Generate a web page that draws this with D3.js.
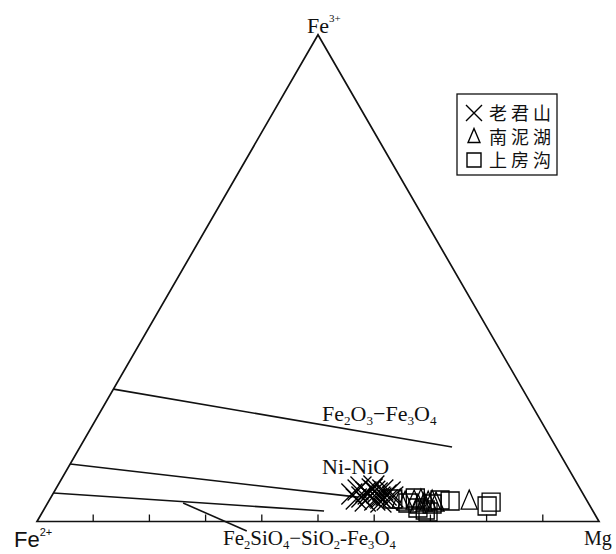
<!DOCTYPE html>
<html><head><meta charset="utf-8">
<script src="https://cdn.jsdelivr.net/npm/d3@7"></script>
<style>body{margin:0;background:#fff}svg{display:block}</style>
</head><body>
<script>
// ---- data (percent: Mg, Fe3+; Fe2+ = 100 - Mg - Fe3+) ----
const vertices = ["Fe2+", "Mg", "Fe3+"];
const legendNames = ["老君山", "南泥湖", "上房沟"];
const baseTicks = [10, 20, 30, 40, 50, 60, 70, 80, 90];
// 老君山 (crosses)
const laojunshanMg  = [53.2, 53.9, 55.3, 55.5, 56.6, 56.3, 57.9, 57.6, 58.5, 58.3, 59.4, 59.8, 60.8, 56.3, 54.5, 56.3, 59.2, 56.1, 60.1, 54.1, 57.0, 58.8];
const laojunshanFe3 = [5.65, 6.47, 5.03, 6.06, 5.24, 6.68, 4.42, 5.86, 5.03, 6.47, 5.44, 6.06, 5.03, 4.21, 4.62, 7.29, 4.0, 5.65, 4.42, 7.09, 6.2, 4.8];
// 南泥湖 (triangles)
const nannihuMg  = [62.4, 63.5, 65.0, 66.1, 67.0, 67.6, 68.2, 69.1, 74.8, 66.1];
const nannihuFe3 = [4.42, 4.0, 4.21, 4.42, 3.8, 4.0, 4.21, 3.8, 4.21, 3.39];
// 上房沟 (squares)
const shangfanggouMg  = [61.0, 64.1, 66.4, 67.9, 68.5, 69.5, 71.4, 78.5, 78.8, 64.9, 68.6];
const shangfanggouFe3 = [4.62, 3.8, 2.77, 2.36, 3.6, 4.42, 4.21, 3.18, 4.0, 4.83, 1.95];
// buffer lines [Mg, Fe3+] endpoints
const lineFe2O3Fe3O4 = [[0, 27.2], [66.2, 15.3]];
const lineNiNiO      = [[0, 11.8], [54.6, 5.0]];
const lineFQM        = [[0, 5.86], [50.0, 2.16]];
const leaderFQM      = [[24.1, 3.8], [38.3, -1.95]];

// ---- geometry ----
const W = 616, H = 554;
const x0 = 37, x1 = 599, yBase = 521.5;
const side = x1 - x0;
const triH = side * Math.sqrt(3) / 2;
const sx = d3.scaleLinear().domain([0, 100]).range([x0, x1]);
const sy = d3.scaleLinear().domain([0, 100]).range([yBase, yBase - triH]);
const px = (mg, fe3) => sx(mg + fe3 / 2);
const py = (mg, fe3) => sy(fe3);

const svg = d3.select("body").append("svg").attr("width", W).attr("height", H);
const serif = "'Liberation Serif','Times New Roman',serif";

// triangle
const tri = [[0, 0], [100, 0], [0, 100]];
svg.append("path")
  .attr("d", d3.line()(tri.map(d => [px(d[0], d[1]), py(d[0], d[1])])) + "Z")
  .attr("fill", "none").attr("stroke", "#111").attr("stroke-width", 1.7).attr("stroke-linejoin", "miter");

// base ticks
svg.selectAll("line.tick").data(baseTicks).join("line")
  .attr("x1", d => px(d, 0)).attr("x2", d => px(d, 0))
  .attr("y1", py(0, 0)).attr("y2", py(0, 0) - 7)
  .attr("stroke", "#111").attr("stroke-width", 1.3);

// buffer lines
[lineFe2O3Fe3O4, lineNiNiO, lineFQM, leaderFQM].forEach(l => {
  svg.append("line")
    .attr("x1", px(l[0][0], l[0][1])).attr("y1", py(l[0][0], l[0][1]))
    .attr("x2", px(l[1][0], l[1][1])).attr("y2", py(l[1][0], l[1][1]))
    .attr("stroke", "#111").attr("stroke-width", 1.6);
});

// chemistry text helper
function chem(x, y, parts, size) {
  const t = svg.append("text").attr("x", x).attr("y", y)
    .attr("font-family", serif).attr("font-size", size).attr("fill", "#111");
  const d = size * 0.2;
  parts.forEach(p => {
    if (p[1] === 1) t.append("tspan").text(p[0]).attr("font-size", size * 0.6).attr("dy", d);
    else t.append("tspan").text(p[0]).attr("dy", p[1] === 2 ? -d : 0);
  });
  return t;
}
chem(322, 421, [["Fe"], ["2", 1], ["O", 2], ["3", 1], ["−", 2], ["Fe"], ["3", 1], ["O", 2], ["4", 1]], 22);
chem(322, 474, [["Ni-NiO"]], 22);
chem(223, 545, [["Fe"], ["2", 1], ["SiO", 2], ["4", 1], ["−SiO", 2], ["2", 1], ["-Fe", 2], ["3", 1], ["O", 2], ["4", 1]], 21);

// vertex labels
const topLabel = svg.append("text").attr("x", 307).attr("y", 33).attr("font-family", serif).attr("font-size", 22).attr("fill", "#111");
topLabel.append("tspan").text("Fe");
topLabel.append("tspan").text("3+").attr("font-size", 11).attr("dy", -11);
svg.append("text").attr("x", 584).attr("y", 545).attr("font-family", serif).attr("font-size", 20).attr("fill", "#111").text("Mg");
const leftLabel = svg.append("text").attr("x", 14).attr("y", 547).attr("font-family", "'Liberation Sans',Arial,sans-serif").attr("font-size", 22).attr("fill", "#111");
leftLabel.append("tspan").text("Fe");
leftLabel.append("tspan").text("2+").attr("font-size", 11).attr("dy", -11);

// markers
const cross = s => `M${-s},${-s}L${s},${s}M${-s},${s}L${s},${-s}`;
const triangle = s => `M0,${-s * 1.15}L${s * 0.85},${s * 0.85}L${-s * 0.85},${s * 0.85}Z`;
const square = s => `M${-s},${-s}H${s}V${s}H${-s}Z`;

function plot(mgArr, fe3Arr, shape, size, sw) {
  svg.append("g").selectAll("path").data(mgArr.map((m, i) => [m, fe3Arr[i]])).join("path")
    .attr("transform", d => `translate(${px(d[0], d[1])},${py(d[0], d[1])})`)
    .attr("d", shape(size)).attr("fill", "none").attr("stroke", "#000").attr("stroke-width", sw);
}
plot(laojunshanMg, laojunshanFe3, cross, 10.5, 1.3);
plot(nannihuMg, nannihuFe3, triangle, 9.5, 1.3);
plot(shangfanggouMg, shangfanggouFe3, square, 9, 1.3);

// legend
const lg = svg.append("g");
lg.append("rect").attr("x", 457).attr("y", 94).attr("width", 100).attr("height", 81)
  .attr("fill", "#fff").attr("stroke", "#111").attr("stroke-width", 1.3);
const shapes = [cross(8), triangle(7), square(7)];
legendNames.forEach((n, i) => {
  const cy = 113 + i * 23.5;
  lg.append("path").attr("transform", `translate(474,${cy})`).attr("d", shapes[i])
    .attr("fill", "none").attr("stroke", "#000").attr("stroke-width", 1.4);
  lg.append("text").attr("x", 489).attr("y", cy + 7).attr("font-family", "'Noto Sans CJK SC',sans-serif")
    .attr("font-size", 18).attr("letter-spacing", 4).attr("fill", "#111").text(n);
});
</script>
</body></html>
